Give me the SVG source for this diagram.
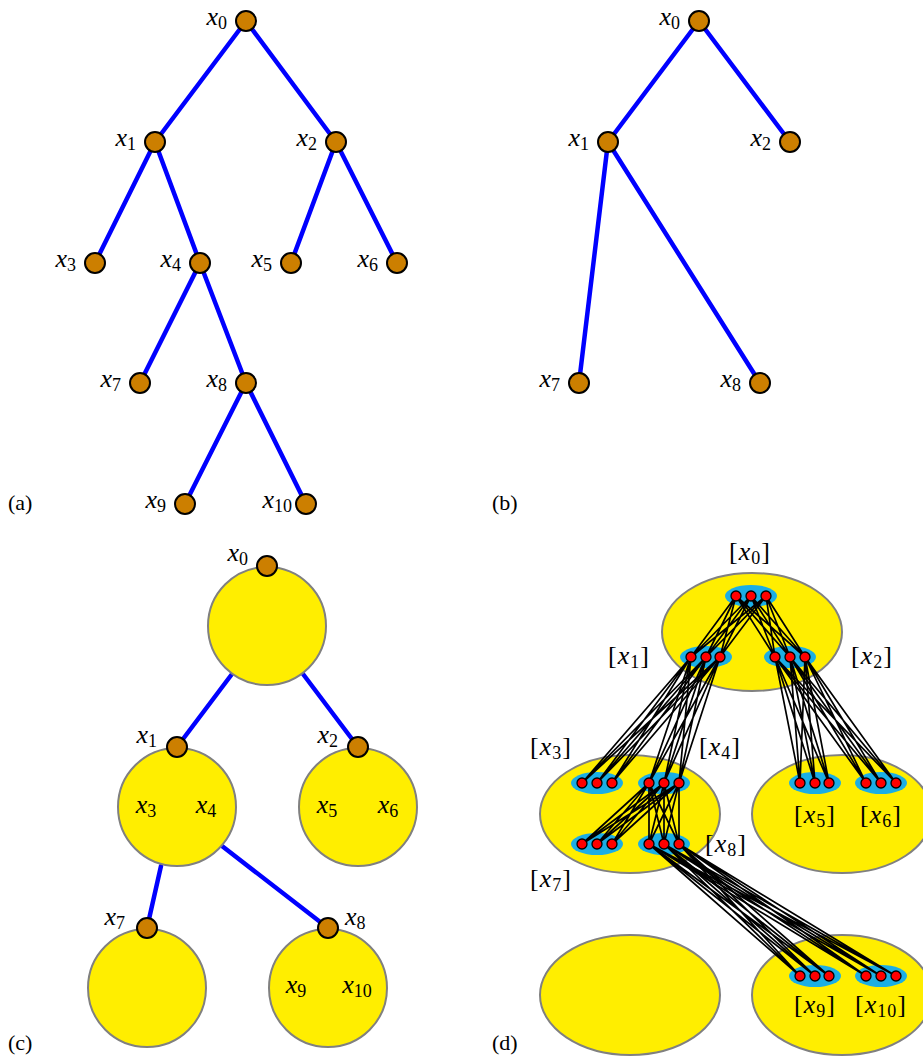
<svg xmlns="http://www.w3.org/2000/svg" width="923" height="1057" viewBox="0 0 923 1057" font-family="'Liberation Serif', 'DejaVu Serif', serif">
<style>
.e{stroke:#0000FF;stroke-width:4.5;stroke-linecap:round}
.n{fill:#CC7F00;stroke:#000;stroke-width:2}
.big{fill:#FFEE00;stroke:#808080;stroke-width:2}
.cy{fill:#1BAEE5}
.rd{fill:#FF0000;stroke:#000;stroke-width:1.3}
.bl{stroke:#000;stroke-width:1.7;fill:none}
text{font-family:'Liberation Serif','DejaVu Serif',serif;font-size:26px;fill:#000}
.m{font-style:italic}
.s{font-size:18px;font-style:normal}
.p{font-size:22px}
.d{letter-spacing:1px}
</style>
<rect width="923" height="1057" fill="#fff"/>

<!-- Panel (a) -->
<g id="a-edges">
<path class="e" d="M246 21L155 142M246 21L336 142M155 142L95 263M155 142L200 263M336 142L291 263M336 142L397 263M200 263L140 383M200 263L246 383M246 383L185 504M246 383L306 504"/>
</g>
<g id="a-x0"><circle class="n" cx="246" cy="21" r="10"/><text x="227" y="25" text-anchor="end" class="m">x<tspan class="s" dy="4">0</tspan></text></g>
<g id="a-x1"><circle class="n" cx="155" cy="142" r="10"/><text x="136" y="146" text-anchor="end" class="m">x<tspan class="s" dy="4">1</tspan></text></g>
<g id="a-x2"><circle class="n" cx="336" cy="142" r="10"/><text x="317" y="146" text-anchor="end" class="m">x<tspan class="s" dy="4">2</tspan></text></g>
<g id="a-x3"><circle class="n" cx="95" cy="263" r="10"/><text x="76" y="267" text-anchor="end" class="m">x<tspan class="s" dy="4">3</tspan></text></g>
<g id="a-x4"><circle class="n" cx="200" cy="263" r="10"/><text x="181" y="267" text-anchor="end" class="m">x<tspan class="s" dy="4">4</tspan></text></g>
<g id="a-x5"><circle class="n" cx="291" cy="263" r="10"/><text x="272" y="267" text-anchor="end" class="m">x<tspan class="s" dy="4">5</tspan></text></g>
<g id="a-x6"><circle class="n" cx="397" cy="263" r="10"/><text x="378" y="267" text-anchor="end" class="m">x<tspan class="s" dy="4">6</tspan></text></g>
<g id="a-x7"><circle class="n" cx="140" cy="383" r="10"/><text x="121" y="387" text-anchor="end" class="m">x<tspan class="s" dy="4">7</tspan></text></g>
<g id="a-x8"><circle class="n" cx="246" cy="383" r="10"/><text x="227" y="387" text-anchor="end" class="m">x<tspan class="s" dy="4">8</tspan></text></g>
<g id="a-x9"><circle class="n" cx="185" cy="504" r="10"/><text x="166" y="508" text-anchor="end" class="m">x<tspan class="s" dy="4">9</tspan></text></g>
<g id="a-x10"><circle class="n" cx="306" cy="504" r="10"/><text x="292" y="508" text-anchor="end" class="m">x<tspan class="s" dy="4">10</tspan></text></g>
<text class="p" x="8" y="510">(a)</text>

<!-- Panel (b) -->
<g id="b-edges">
<path class="e" d="M699 21L608 142M699 21L790 142M608 142L579 383M608 142L760 383"/>
</g>
<g id="b-x0"><circle class="n" cx="699" cy="21" r="10"/><text x="680" y="25" text-anchor="end" class="m">x<tspan class="s" dy="4">0</tspan></text></g>
<g id="b-x1"><circle class="n" cx="608" cy="142" r="10"/><text x="589" y="146" text-anchor="end" class="m">x<tspan class="s" dy="4">1</tspan></text></g>
<g id="b-x2"><circle class="n" cx="790" cy="142" r="10"/><text x="771" y="146" text-anchor="end" class="m">x<tspan class="s" dy="4">2</tspan></text></g>
<g id="b-x7"><circle class="n" cx="579" cy="383" r="10"/><text x="560" y="387" text-anchor="end" class="m">x<tspan class="s" dy="4">7</tspan></text></g>
<g id="b-x8"><circle class="n" cx="760" cy="383" r="10"/><text x="741" y="387" text-anchor="end" class="m">x<tspan class="s" dy="4">8</tspan></text></g>
<text class="p" x="492" y="510">(b)</text>

<!-- Panel (c) -->
<g id="c-edges">
<path class="e" d="M232 674L177 747M303 674L358 747M161 866L147 928M222 846L328 928"/>
</g>
<g id="c-root"><circle class="big" cx="267" cy="626" r="59"/><circle class="n" cx="267" cy="566" r="10"/><text x="248" y="561" text-anchor="end" class="m">x<tspan class="s" dy="4">0</tspan></text></g>
<g id="c-x1"><circle class="big" cx="177" cy="807" r="59"/><circle class="n" cx="177" cy="747" r="10"/><text x="157" y="743" text-anchor="end" class="m">x<tspan class="s" dy="4">1</tspan></text>
<text x="146" y="813" text-anchor="middle" class="m">x<tspan class="s" dy="4">3</tspan></text><text x="206" y="813" text-anchor="middle" class="m">x<tspan class="s" dy="4">4</tspan></text></g>
<g id="c-x2"><circle class="big" cx="358" cy="807" r="59"/><circle class="n" cx="358" cy="747" r="10"/><text x="338" y="743" text-anchor="end" class="m">x<tspan class="s" dy="4">2</tspan></text>
<text x="327" y="813" text-anchor="middle" class="m">x<tspan class="s" dy="4">5</tspan></text><text x="388" y="813" text-anchor="middle" class="m">x<tspan class="s" dy="4">6</tspan></text></g>
<g id="c-x7"><circle class="big" cx="147" cy="988" r="59"/><circle class="n" cx="147" cy="928" r="10"/><text x="125" y="925" text-anchor="end" class="m">x<tspan class="s" dy="4">7</tspan></text></g>
<g id="c-x8"><circle class="big" cx="328" cy="988" r="59"/><circle class="n" cx="328" cy="928" r="10"/><text x="345" y="925" class="m">x<tspan class="s" dy="4">8</tspan></text>
<text x="296" y="993" text-anchor="middle" class="m">x<tspan class="s" dy="4">9</tspan></text><text x="357" y="993" text-anchor="middle" class="m">x<tspan class="s" dy="4">10</tspan></text></g>
<text class="p" x="8" y="1050">(c)</text>

<!-- Panel (d) -->
<g id="d-blobs">
<ellipse class="big" cx="752" cy="632" rx="90" ry="59"/>
<ellipse class="big" cx="630" cy="814" rx="90" ry="59"/>
<ellipse class="big" cx="842" cy="814" rx="90" ry="59"/>
<ellipse class="big" cx="630" cy="995" rx="90" ry="60"/>
<ellipse class="big" cx="842" cy="995" rx="90" ry="60"/>
</g>
<g id="d-groups">
<ellipse class="cy" cx="751" cy="596" rx="26" ry="11"/>
<ellipse class="cy" cx="706" cy="657" rx="26" ry="11"/>
<ellipse class="cy" cx="790" cy="657" rx="26" ry="11"/>
<ellipse class="cy" cx="597" cy="783" rx="26" ry="11"/>
<ellipse class="cy" cx="664" cy="783" rx="26" ry="11"/>
<ellipse class="cy" cx="815" cy="783" rx="26" ry="11"/>
<ellipse class="cy" cx="881" cy="783" rx="26" ry="11"/>
<ellipse class="cy" cx="597" cy="844" rx="26" ry="11"/>
<ellipse class="cy" cx="664" cy="844" rx="26" ry="11"/>
<ellipse class="cy" cx="815" cy="976" rx="26" ry="11"/>
<ellipse class="cy" cx="881" cy="976" rx="26" ry="11"/>
</g>
<g id="d-connectors">
<path class="bl" d="M736 596L691 657M736 596L706 657M736 596L720 657M751 596L691 657M751 596L706 657M751 596L720 657M766 596L691 657M766 596L706 657M766 596L720 657"/>
<path class="bl" d="M736 596L775 657M736 596L790 657M736 596L805 657M751 596L775 657M751 596L790 657M751 596L805 657M766 596L775 657M766 596L790 657M766 596L805 657"/>
<path class="bl" d="M691 657L582 783M691 657L597 783M691 657L612 783M706 657L582 783M706 657L597 783M706 657L612 783M720 657L582 783M720 657L597 783M720 657L612 783"/>
<path class="bl" d="M691 657L649 783M691 657L664 783M691 657L679 783M706 657L649 783M706 657L664 783M706 657L679 783M720 657L649 783M720 657L664 783M720 657L679 783"/>
<path class="bl" d="M775 657L800 783M775 657L815 783M775 657L829 783M790 657L800 783M790 657L815 783M790 657L829 783M805 657L800 783M805 657L815 783M805 657L829 783"/>
<path class="bl" d="M775 657L866 783M775 657L881 783M775 657L896 783M790 657L866 783M790 657L881 783M790 657L896 783M805 657L866 783M805 657L881 783M805 657L896 783"/>
<path class="bl" d="M649 783L582 844M649 783L597 844M649 783L612 844M664 783L582 844M664 783L597 844M664 783L612 844M679 783L582 844M679 783L597 844M679 783L612 844"/>
<path class="bl" d="M649 783L649 844M649 783L664 844M649 783L679 844M664 783L649 844M664 783L664 844M664 783L679 844M679 783L649 844M679 783L664 844M679 783L679 844"/>
<path class="bl" d="M649 844L800 976M649 844L815 976M649 844L829 976M664 844L800 976M664 844L815 976M664 844L829 976M679 844L800 976M679 844L815 976M679 844L829 976"/>
<path class="bl" d="M649 844L866 976M649 844L881 976M649 844L896 976M664 844L866 976M664 844L881 976M664 844L896 976M679 844L866 976M679 844L881 976M679 844L896 976"/>
</g>
<g id="d-x0"><circle class="rd" cx="736" cy="596" r="5"/><circle class="rd" cx="751" cy="596" r="5"/><circle class="rd" cx="766" cy="596" r="5"/><text class="d" x="750" y="560" text-anchor="middle">[<tspan class="m">x</tspan><tspan class="s" dy="4">0</tspan><tspan dy="-4">]</tspan></text></g>
<g id="d-x1"><circle class="rd" cx="691" cy="657" r="5"/><circle class="rd" cx="706" cy="657" r="5"/><circle class="rd" cx="720" cy="657" r="5"/><text class="d" x="629" y="664" text-anchor="middle">[<tspan class="m">x</tspan><tspan class="s" dy="4">1</tspan><tspan dy="-4">]</tspan></text></g>
<g id="d-x2"><circle class="rd" cx="775" cy="657" r="5"/><circle class="rd" cx="790" cy="657" r="5"/><circle class="rd" cx="805" cy="657" r="5"/><text class="d" x="872" y="664" text-anchor="middle">[<tspan class="m">x</tspan><tspan class="s" dy="4">2</tspan><tspan dy="-4">]</tspan></text></g>
<g id="d-x3"><circle class="rd" cx="582" cy="783" r="5"/><circle class="rd" cx="597" cy="783" r="5"/><circle class="rd" cx="612" cy="783" r="5"/><text class="d" x="551" y="755" text-anchor="middle">[<tspan class="m">x</tspan><tspan class="s" dy="4">3</tspan><tspan dy="-4">]</tspan></text></g>
<g id="d-x4"><circle class="rd" cx="649" cy="783" r="5"/><circle class="rd" cx="664" cy="783" r="5"/><circle class="rd" cx="679" cy="783" r="5"/><text class="d" x="720" y="755" text-anchor="middle">[<tspan class="m">x</tspan><tspan class="s" dy="4">4</tspan><tspan dy="-4">]</tspan></text></g>
<g id="d-x5"><circle class="rd" cx="800" cy="783" r="5"/><circle class="rd" cx="815" cy="783" r="5"/><circle class="rd" cx="829" cy="783" r="5"/><text class="d" x="815" y="823" text-anchor="middle">[<tspan class="m">x</tspan><tspan class="s" dy="4">5</tspan><tspan dy="-4">]</tspan></text></g>
<g id="d-x6"><circle class="rd" cx="866" cy="783" r="5"/><circle class="rd" cx="881" cy="783" r="5"/><circle class="rd" cx="896" cy="783" r="5"/><text class="d" x="881" y="823" text-anchor="middle">[<tspan class="m">x</tspan><tspan class="s" dy="4">6</tspan><tspan dy="-4">]</tspan></text></g>
<g id="d-x7"><circle class="rd" cx="582" cy="844" r="5"/><circle class="rd" cx="597" cy="844" r="5"/><circle class="rd" cx="612" cy="844" r="5"/><text class="d" x="551" y="887" text-anchor="middle">[<tspan class="m">x</tspan><tspan class="s" dy="4">7</tspan><tspan dy="-4">]</tspan></text></g>
<g id="d-x8"><circle class="rd" cx="649" cy="844" r="5"/><circle class="rd" cx="664" cy="844" r="5"/><circle class="rd" cx="679" cy="844" r="5"/><text class="d" x="726" y="852" text-anchor="middle">[<tspan class="m">x</tspan><tspan class="s" dy="4">8</tspan><tspan dy="-4">]</tspan></text></g>
<g id="d-x9"><circle class="rd" cx="800" cy="976" r="5"/><circle class="rd" cx="815" cy="976" r="5"/><circle class="rd" cx="829" cy="976" r="5"/><text class="d" x="815" y="1013" text-anchor="middle">[<tspan class="m">x</tspan><tspan class="s" dy="4">9</tspan><tspan dy="-4">]</tspan></text></g>
<g id="d-x10"><circle class="rd" cx="866" cy="976" r="5"/><circle class="rd" cx="881" cy="976" r="5"/><circle class="rd" cx="896" cy="976" r="5"/><text class="d" x="881" y="1013" text-anchor="middle">[<tspan class="m">x</tspan><tspan class="s" dy="4">10</tspan><tspan dy="-4">]</tspan></text></g>
<text class="p" x="492" y="1050">(d)</text>
</svg>
